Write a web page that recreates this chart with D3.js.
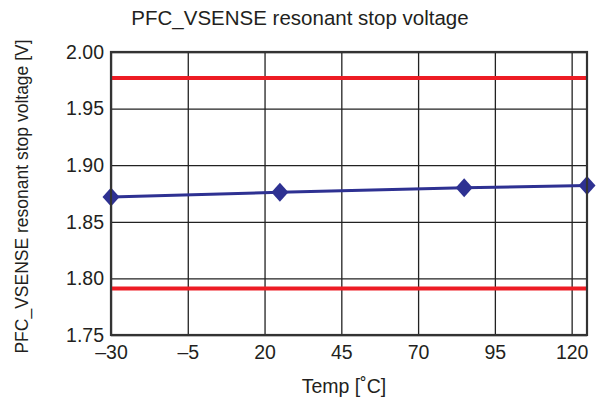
<!DOCTYPE html>
<html>
<head>
<meta charset="utf-8">
<script src="https://cdn.jsdelivr.net/npm/d3@7"></script>
<style>
  html, body { margin: 0; padding: 0; background: #fff; }
  svg { display: block; font-family: "Liberation Sans", Arial, Helvetica, sans-serif; }
</style>
</head>
<body>
<svg id="chart" width="602" height="412"></svg>
<script>
// ---- data ----
const temps = [-30, 25, 85, 125];
const voltage = [1.872, 1.876, 1.880, 1.882];
const limitHigh = [1.977];
const limitLow = [1.791];
const xTicks = [-30, -5, 20, 45, 70, 95, 120];
const xTickLabels = ["\u201330", "\u20135", "20", "45", "70", "95", "120"];
const yTicks = [1.75, 1.80, 1.85, 1.90, 1.95, 2.00];
const yTickLabels = ["1.75", "1.80", "1.85", "1.90", "1.95", "2.00"];
const xDomain = [-30, 125];
const yDomain = [1.75, 2.00];
const title = "PFC_VSENSE resonant stop voltage";
const xTitle = "Temp [\u02DAC]";
const yTitle = "PFC_VSENSE resonant stop voltage [V]";

// ---- layout ----
const W = 602, H = 412;
const m = { left: 111, right: 15, top: 52, bottom: 77 };
const pw = W - m.left - m.right, ph = H - m.top - m.bottom;

const svg = d3.select("#chart");
const g = svg.append("g").attr("transform", `translate(${m.left},${m.top})`);

const x = d3.scaleLinear().domain(xDomain).range([0, pw]);
const y = d3.scaleLinear().domain(yDomain).range([ph, 0]);

// grid lines
g.append("g").attr("class", "xgrid")
  .call(d3.axisBottom(x).tickValues(xTicks).tickSize(ph).tickFormat(""))
  .call(s => s.select(".domain").remove())
  .call(s => s.selectAll("line").attr("stroke", "#222").attr("stroke-width", 1.3));
g.append("g").attr("class", "ygrid")
  .call(d3.axisRight(y).tickValues(yTicks).tickSize(pw).tickFormat(""))
  .call(s => s.select(".domain").remove())
  .call(s => s.selectAll("line").attr("stroke", "#222").attr("stroke-width", 1.3));

// limit lines
const limits = limitHigh.concat(limitLow);
g.selectAll(".limit").data(limits).enter().append("line")
  .attr("class", "limit")
  .attr("x1", x(xDomain[0])).attr("x2", x(xDomain[1]))
  .attr("y1", d => y(d)).attr("y2", d => y(d))
  .attr("stroke", "#ed1c24").attr("stroke-width", 4);

// data line
const pts = temps.map((t, i) => [t, voltage[i]]);
g.append("path").datum(pts)
  .attr("fill", "none").attr("stroke", "#2e3192").attr("stroke-width", 3)
  .attr("d", d3.line().x(d => x(d[0])).y(d => y(d[1])));

// markers (diamonds)
const dw = 8.5, dh = 9.5;
const diamond = `M0,${-dh}L${dw},0L0,${dh}L${-dw},0Z`;
g.selectAll(".mk").data(pts).enter().append("path")
  .attr("class", "mk")
  .attr("transform", d => `translate(${x(d[0])},${y(d[1])})`)
  .attr("d", diamond)
  .attr("fill", "#2e3192");

// frame
g.append("rect").attr("x", 0).attr("y", 0).attr("width", pw).attr("height", ph)
  .attr("fill", "none").attr("stroke", "#333").attr("stroke-width", 2.2);

// axes labels
g.append("g").attr("transform", `translate(0,${ph})`)
  .call(d3.axisBottom(x).tickValues(xTicks).tickSize(0).tickPadding(10)
    .tickFormat((d, i) => xTickLabels[i]))
  .call(s => s.select(".domain").remove())
  .call(s => s.selectAll("text").attr("font-size", 19.5).attr("fill", "#231f20")
    .attr("font-family", "Liberation Sans, Arial, sans-serif"));

g.append("g")
  .call(d3.axisLeft(y).tickValues(yTicks).tickSize(0).tickPadding(7)
    .tickFormat((d, i) => yTickLabels[i]))
  .call(s => s.select(".domain").remove())
  .call(s => s.selectAll("text").attr("font-size", 19.5).attr("fill", "#231f20")
    .attr("font-family", "Liberation Sans, Arial, sans-serif"));

// titles
svg.append("text").attr("x", 300).attr("y", 25).attr("text-anchor", "middle")
  .attr("font-size", 20.5).attr("fill", "#231f20").text(title);
svg.append("text").attr("x", m.left + pw / 2 - 5).attr("y", 393).attr("text-anchor", "middle")
  .attr("font-size", 19.5).attr("fill", "#231f20").text(xTitle);
svg.append("text").attr("transform", `translate(28,${m.top + ph / 2 + 3}) rotate(-90)`)
  .attr("text-anchor", "middle").attr("font-size", 17.5).attr("fill", "#231f20").text(yTitle);
</script>
</body>
</html>
